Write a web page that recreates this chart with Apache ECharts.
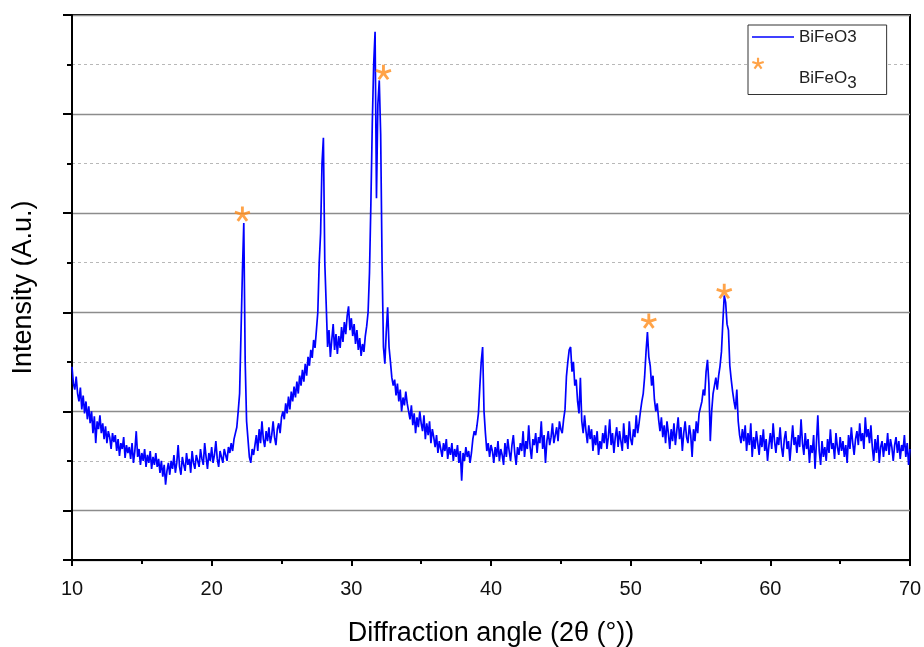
<!DOCTYPE html>
<html><head><meta charset="utf-8">
<script src="https://cdn.jsdelivr.net/npm/echarts@6/dist/echarts.min.js"></script>
<style>html,body{margin:0;padding:0;background:#fff}#c{width:924px;height:647px}</style>
</head><body><div id="c"></div>
<script>
// Diffraction angle grid of the scan: start and step (degrees)
const angleStart = 10;
const angleStep = 0.1;
// Intensity readings, one row per degree (d.0 ... d.9)
const intensity10to20 = [
 195,178,172,185,168,160,174,152,166,148,
 160,142,155,138,150,128,145,118,140,132,
 146,128,138,122,135,118,130,124,112,128,
 119,126,110,122,105,118,112,124,103,116,
 108,114,102,118,98,110,130,104,112,96,
 108,100,112,94,106,98,110,92,104,96,
 108,94,102,88,100,84,96,76,90,98,
 86,100,92,106,88,98,116,94,86,104,
 96,90,108,96,102,88,110,98,92,106,
 100,94,112,102,96,118,104,92,108,100
];
const intensity20to30 = [
 114,98,106,120,102,94,110,104,98,112,
 106,100,114,108,118,110,122,128,134,150,
 168,170,290,340,200,140,122,104,98,112,
 106,116,126,110,132,118,140,122,114,130,
 120,134,118,126,140,124,116,132,138,128,
 144,150,142,158,148,165,152,170,160,175,
 164,180,168,186,176,192,180,198,186,205,
 196,212,204,222,214,232,250,300,330,400,
 426,300,258,215,232,205,222,238,212,228,
 208,226,214,235,220,240,228,246,256,232
];
const intensity30to40 = [
 244,226,238,218,232,212,224,206,218,210,
 226,236,250,290,360,440,500,533,365,460,
 484,430,300,215,198,230,255,215,200,184,
 176,182,166,178,160,172,150,164,156,170,
 158,150,142,156,136,148,128,144,134,150,
 138,130,146,122,138,126,140,118,132,124,
 114,126,108,120,112,104,118,110,122,102,
 114,106,118,100,112,104,116,98,110,80,
 108,100,114,104,110,98,108,122,130,126,
 136,148,175,200,215,150,128,110,118,104
];
const intensity40to50 = [
 116,110,98,114,104,120,100,112,106,96,
 118,104,122,110,100,116,126,108,96,114,
 106,118,110,130,104,120,112,136,114,102,
 122,116,128,108,124,118,140,112,126,98,
 120,130,116,124,138,118,126,134,120,140,
 132,128,142,152,185,200,212,215,190,200,
 176,182,160,148,184,140,128,146,130,118,
 136,122,132,110,126,116,130,106,120,112,
 128,118,136,112,124,142,116,128,108,124,
 134,114,130,120,110,138,118,126,112,140
];
const intensity50to60 = [
 122,116,132,124,146,128,138,150,160,168,
 185,210,230,205,196,176,186,162,150,158,
 142,130,144,124,136,118,140,128,112,132,
 120,138,116,130,144,122,134,110,128,140,
 124,118,136,126,104,132,120,140,128,148,
 154,160,172,166,190,202,178,120,150,168,
 176,184,172,186,196,210,240,267,260,238,
 232,196,182,170,160,152,172,140,126,118,
 132,120,136,110,128,116,138,104,124,112,
 130,118,106,126,114,132,110,122,100,116
];
const intensity60to70 = [
 128,112,138,120,108,124,116,134,114,104,
 122,130,112,120,100,118,136,116,124,108,
 126,114,142,118,106,128,112,122,98,116,
 108,126,92,118,146,110,96,120,104,114,
 100,122,108,132,112,118,102,128,114,106,
 124,110,120,104,116,98,126,112,134,118,
 106,122,130,116,138,120,128,112,144,124,
 132,118,136,114,100,122,108,126,98,114,
 120,104,118,110,128,106,122,114,100,116,
 124,108,120,102,116,110,126,104,118,96,
 112
];
// Marked BiFeO3 reflections
const starAngles = [22.2, 32.3, 51.3, 56.7];
const starIntensities = [349, 492, 241, 271];
// Axis ticks
const xTickValues = [10, 20, 30, 40, 50, 60, 70];

const intensity = [].concat(intensity10to20, intensity20to30, intensity30to40,
  intensity40to50, intensity50to60, intensity60to70);
const pattern = intensity.map((v, i) => [+(angleStart + i * angleStep).toFixed(2), v]);
const stars = starAngles.map((a, i) => [a, starIntensities[i]]);

const FONT = '"Liberation Sans", Arial, sans-serif';
const ASTERISK = 'path://M1.8,0L1.8,-10L-1.8,-10L-1.8,0Z M0.556,1.712L10.066,-1.378L8.954,-4.802L-0.556,-1.712Z M-1.456,1.058L4.424,9.148L7.336,7.032L1.456,-1.058Z M-1.456,-1.058L-7.336,7.032L-4.424,9.148L1.456,1.058Z M0.556,-1.712L-8.954,-4.802L-10.066,-1.378L-0.556,1.712Z';
const ASTERISK_LEGEND = ASTERISK + ' M60,0L60,0.01';
const LINE_LEGEND = 'path://M0,0L42,0L42,1.3L0,1.3Z';

const chart = echarts.init(document.getElementById('c'), null, {renderer: 'canvas'});
chart.setOption({
  animation: false,
  backgroundColor: '#fff',
  grid: {left: 72, right: 14, top: 15, bottom: 87, show: true, borderColor: '#000', borderWidth: 2,
         backgroundColor: 'transparent', outerBoundsMode: 'none'},
  legend: {
    orient: 'vertical', left: 748, top: 25,
    backgroundColor: '#fff', borderColor: '#333', borderWidth: 1, borderRadius: 0,
    padding: [3.5, 30, 3, 4], itemGap: -5.5, itemWidth: 42, itemHeight: 14,
    textStyle: {fontFamily: FONT, fontSize: 17, lineHeight: 17, color: '#222',
      rich: {a: {fontFamily: FONT, fontSize: 17, color: '#222'},
             b: {fontFamily: FONT, fontSize: 17, color: '#222', padding: [9, 0, 0, 0]}}},
    formatter: function (n) { return n === 'BiFeO3 phase' ? '{a|BiFeO}{b|3}' : n; },
    data: [
      {name: 'BiFeO3', icon: LINE_LEGEND, itemStyle: {color: '#0000ff'}},
      {name: 'BiFeO3 phase', icon: ASTERISK_LEGEND, textStyle: {padding: [30, 0, 0, 0]}}
    ]
  },
  xAxis: {
    type: 'value', min: 10, max: 70, interval: 10,
    name: 'Diffraction angle (2θ (°))', nameLocation: 'middle', nameGap: 60,
    nameTextStyle: {fontFamily: FONT, fontSize: 27, color: '#000'},
    axisLine: {show: true, onZero: false, lineStyle: {color: '#000', width: 2}},
    axisTick: {show: true, length: 6, lineStyle: {color: '#000', width: 2}},
    minorTick: {show: true, splitNumber: 2, length: 4, lineStyle: {color: '#000', width: 2}},
    axisLabel: {fontFamily: FONT, fontSize: 20, color: '#111', margin: 19,
      customValues: xTickValues},
    splitLine: {show: false}
  },
  yAxis: [
    {
      type: 'value', min: 0, max: 550, interval: 100, position: 'left',
      name: 'Intensity (A.u.)', nameLocation: 'middle', nameGap: 35,
      nameTextStyle: {fontFamily: FONT, fontSize: 27, color: '#000'},
      axisLine: {show: true, onZero: false, lineStyle: {color: '#000', width: 2}},
      axisTick: {show: true, length: 5, lineStyle: {color: '#000', width: 2}},
      axisLabel: {show: false},
      splitLine: {show: true, lineStyle: {color: '#b8b8b8', width: 1, type: [3, 3]}}
    },
    {
      type: 'value', min: 0, max: 550, interval: 100, inverse: true, position: 'left', offset: 0,
      axisLine: {show: false},
      axisTick: {show: true, length: 9, lineStyle: {color: '#000', width: 2}},
      axisLabel: {show: false},
      splitLine: {show: true, lineStyle: {color: '#8c8c8c', width: 1.3}}
    }
  ],
  series: [
    {name: 'BiFeO3', type: 'line', data: pattern, yAxisIndex: 0, symbol: 'none', showSymbol: false,
     lineStyle: {color: '#0000ff', width: 1.7}, itemStyle: {color: '#0000ff'}, z: 3},
    {name: 'BiFeO3 phase', type: 'scatter', data: stars, yAxisIndex: 0, symbol: ASTERISK,
     symbolSize: 16, symbolKeepAspect: true, itemStyle: {color: '#ff8c1a'}, z: 4}
  ]
});
</script>
</body></html>
